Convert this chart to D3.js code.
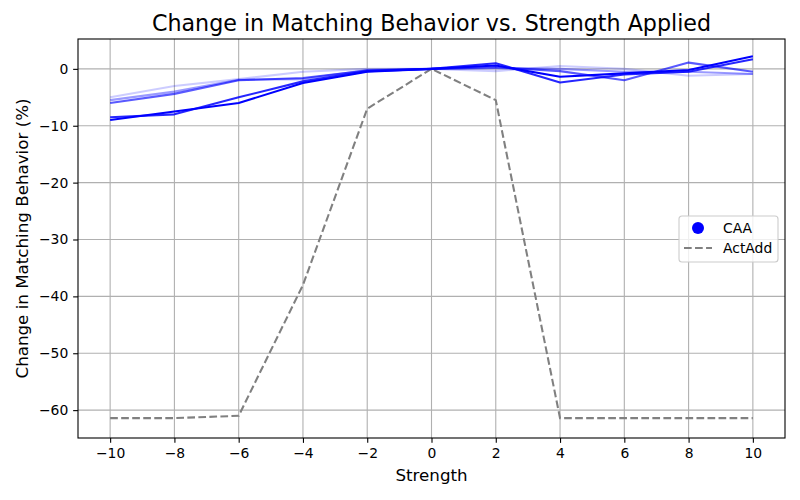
<!DOCTYPE html>
<html><head><meta charset="utf-8">
<script src="https://cdn.jsdelivr.net/npm/d3@7"></script>
<style>body{margin:0;background:#fff;} svg{display:block;font-family:"DejaVu Sans",sans-serif;}</style>
</head><body>
<svg id="chart" width="800" height="500"></svg>
<script>
const strengths = [-10, -8, -6, -4, -2, 0, 2, 4, 6, 8, 10];
const caaA = [-9.0, -7.5, -6.0, -2.5, -0.5, 0, 0.6, -1.4, -0.8, -0.2, 2.2];
const caaB = [-8.5, -8.0, -5.0, -2.2, -0.4, 0, 1.0, -2.4, -1.0, -0.5, 1.7];
const caaC = [-6.0, -4.4, -2.0, -1.6, -0.3, 0, 0.3, -0.4, -2.0, 1.1, -0.5];
const caaD = [-5.5, -4.0, -1.9, -1.8, -0.2, 0, 0.1, 0.0, -0.5, -0.5, -0.9];
const caaE = [-5.0, -3.0, -1.8, -0.5, 0.0, 0, -0.4, 0.5, 0.0, -1.2, -0.9];
const caaSeries = [caaE, caaD, caaC, caaB, caaA];
const caaAlphas = [0.2, 0.4, 0.65, 0.85, 1.0];
const actAdd = [-61.4, -61.4, -61.0, -38.0, -7.0, 0, -5.5, -61.4, -61.4, -61.4, -61.4];
const xTicks = [-10, -8, -6, -4, -2, 0, 2, 4, 6, 8, 10];
const yTicks = [0, -10, -20, -30, -40, -50, -60];
const legendLabels = ["CAA", "ActAdd"];

const svg = d3.select("#chart");
const L = 78, R = 785, T = 39, B = 438;
const x = d3.scaleLinear().domain([-11, 11]).range([L, R]);
const y = d3.scaleLinear().domain([-64.9, 5.25]).range([B, T]);

// grid
const g = svg.append("g");
g.selectAll(".gx").data(xTicks).enter().append("line")
  .attr("x1", d => x(d)).attr("x2", d => x(d)).attr("y1", T).attr("y2", B)
  .attr("stroke", "#b0b0b0").attr("stroke-width", 1.1);
g.selectAll(".gy").data(yTicks).enter().append("line")
  .attr("y1", d => y(d)).attr("y2", d => y(d)).attr("x1", L).attr("x2", R)
  .attr("stroke", "#b0b0b0").attr("stroke-width", 1.1);

const line = d3.line().x((d, i) => x(strengths[i])).y(d => y(d));

// ActAdd
svg.append("path").datum(actAdd).attr("d", line)
  .attr("fill", "none").attr("stroke", "#808080").attr("stroke-width", 2.08)
  .attr("stroke-dasharray", "7.7,3.33");

// CAA
caaSeries.forEach((s, k) => {
  svg.append("path").datum(s).attr("d", line)
    .attr("fill", "none").attr("stroke", "#0000ff").attr("stroke-opacity", caaAlphas[k])
    .attr("stroke-width", 2.08).attr("stroke-linejoin", "round");
});

// axes
const xAxis = d3.axisBottom(x).tickValues(xTicks).tickSize(4.86).tickPadding(4.86)
  .tickFormat(d => d < 0 ? "\u2212" + Math.abs(d) : d);
const yAxis = d3.axisLeft(y).tickValues(yTicks).tickSize(4.86).tickPadding(4.86)
  .tickFormat(d => d < 0 ? "\u2212" + Math.abs(d) : d);
const ax = svg.append("g").attr("transform", `translate(0,${B})`).call(xAxis);
const ay = svg.append("g").attr("transform", `translate(${L},0)`).call(yAxis);
[ax, ay].forEach(a => {
  a.select(".domain").remove();
  a.selectAll("text").attr("font-size", "13.9px").attr("fill", "#000").attr("font-family", "DejaVu Sans");
  a.selectAll("line").attr("stroke", "#000").attr("stroke-width", 1.1);
});

// frame
svg.append("rect").attr("x", L).attr("y", T).attr("width", R - L).attr("height", B - T)
  .attr("fill", "none").attr("stroke", "#000").attr("stroke-width", 1.1);

// title and labels
svg.append("text").attr("x", (L + R) / 2).attr("y", 31).attr("text-anchor", "middle")
  .attr("font-size", "22.2px").text("Change in Matching Behavior vs. Strength Applied");
svg.append("text").attr("x", (L + R) / 2).attr("y", 481).attr("text-anchor", "middle")
  .attr("font-size", "16.7px").text("Strength");
svg.append("text").attr("transform", `translate(28,${(T + B) / 2}) rotate(-90)`).attr("text-anchor", "middle")
  .attr("font-size", "16.7px").text("Change in Matching Behavior (%)");

// legend
const lg = svg.append("g").attr("transform", "translate(679,216)");
lg.append("rect").attr("width", 99).attr("height", 46).attr("rx", 3)
  .attr("fill", "#fff").attr("fill-opacity", 0.8).attr("stroke", "#cccccc").attr("stroke-width", 1.1);
lg.append("circle").attr("cx", 19).attr("cy", 12).attr("r", 6).attr("fill", "#0000ff");
lg.append("line").attr("x1", 5).attr("x2", 33).attr("y1", 32).attr("y2", 32)
  .attr("stroke", "#808080").attr("stroke-width", 2.08).attr("stroke-dasharray", "7.7,3.33");
lg.selectAll(".lt").data(legendLabels).enter().append("text")
  .attr("x", 44).attr("y", (d, i) => 12 + i * 20).attr("dy", "0.35em")
  .attr("font-size", "13.9px").text(d => d);
</script>
</body></html>
